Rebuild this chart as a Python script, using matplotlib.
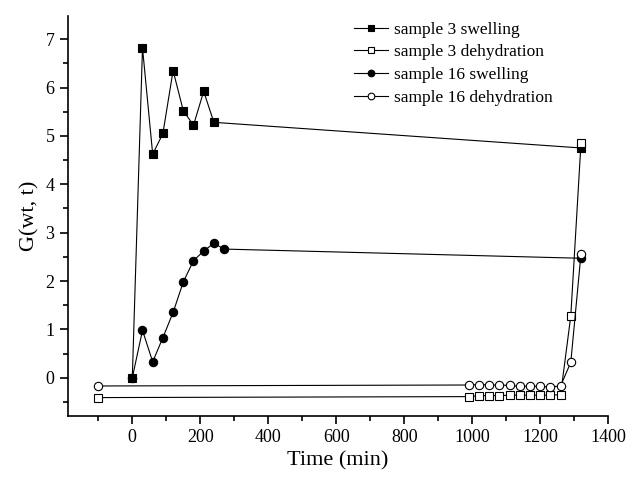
import numpy as np
import matplotlib.pyplot as plt
from matplotlib.ticker import MultipleLocator

plt.rcParams['font.family'] = ['Liberation Serif', 'DejaVu Serif']

# sample 3 swelling
t_s3 = [0, 30, 60, 90, 120, 150, 180, 210, 240, 1320]
g_s3 = [0.0, 6.82, 4.62, 5.05, 6.35, 5.52, 5.22, 5.92, 5.28, 4.75]

# sample 3 dehydration
t_d3 = [-100, 990, 1020, 1050, 1080, 1110, 1140, 1170, 1200, 1230, 1260, 1290, 1320]
g_d3 = [-0.41, -0.39, -0.37, -0.37, -0.37, -0.36, -0.36, -0.36, -0.36, -0.36, -0.35, 1.28, 4.85]

# sample 16 swelling
t_s16 = [0, 30, 60, 90, 120, 150, 180, 210, 240, 270, 1320]
g_s16 = [0.0, 0.98, 0.33, 0.83, 1.35, 1.98, 2.42, 2.62, 2.78, 2.66, 2.47]

# sample 16 dehydration
t_d16 = [-100, 990, 1020, 1050, 1080, 1110, 1140, 1170, 1200, 1230, 1260, 1290, 1320]
g_d16 = [-0.17, -0.15, -0.14, -0.15, -0.15, -0.16, -0.18, -0.17, -0.18, -0.19, -0.17, 0.32, 2.56]

fig = plt.figure(figsize=(6.27, 4.82), dpi=100)
ax = fig.add_axes([0.108, 0.137, 0.862, 0.830])

kw = dict(color='black', lw=0.8, ms=6, mec='black', mew=0.8)
ax.plot(t_s3, g_s3, marker='s', mfc='black', label='sample 3 swelling', **kw)
ax.plot(t_d3, g_d3, marker='s', mfc='white', label='sample 3 dehydration', **kw)
ax.plot(t_s16, g_s16, marker='o', mfc='black', label='sample 16 swelling', **kw)
ax.plot(t_d16, g_d16, marker='o', mfc='white', label='sample 16 dehydration', **kw)

ax.set_xlim(-190, 1400)
ax.set_ylim(-0.79, 7.48)
ax.xaxis.set_major_locator(MultipleLocator(200))
ax.xaxis.set_minor_locator(MultipleLocator(100))
ax.yaxis.set_major_locator(MultipleLocator(1))
ax.yaxis.set_minor_locator(MultipleLocator(0.5))

for s in ['top', 'right']:
    ax.spines[s].set_visible(False)
for s in ['left', 'bottom']:
    ax.spines[s].set_linewidth(1.2)
ax.tick_params(which='major', direction='out', length=6, width=1.2, labelsize=13)
ax.tick_params(which='minor', direction='out', length=3.5, width=1.2)

ax.set_xlabel('Time (min)', fontsize=16)
ax.set_ylabel('G(wt, t)', fontsize=16)

ax.legend(loc='upper left', bbox_to_anchor=(0.5, 1.025), frameon=False, fontsize=12.5,
          handlelength=2.0, handletextpad=0.3, labelspacing=0.38, markerscale=0.8)

fig.savefig('out.png', dpi=100)
